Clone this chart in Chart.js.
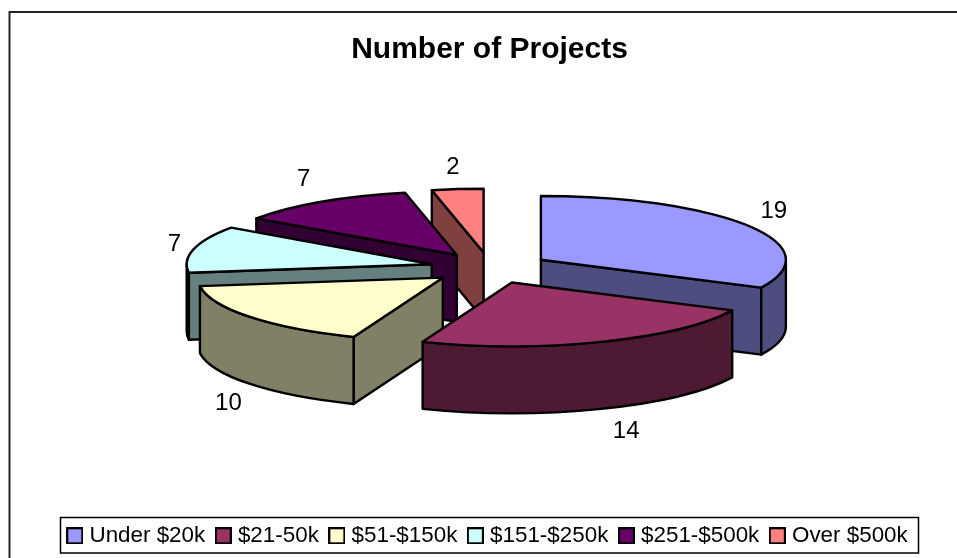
<!DOCTYPE html>
<html>
<head>
<meta charset="utf-8">
<title>Number of Projects</title>
<script src="https://cdn.jsdelivr.net/npm/chart.js@4/dist/chart.umd.js"></script>
<style>
    html, body { margin: 0; padding: 0; background: #fff; }
    canvas { display: block; }
</style>
</head>
<body>
<canvas id="pieChart" width="957" height="558"></canvas>
<script>
const titleText = 'Number of Projects';
const categories = ['Under $20k', '$21-50k', '$51-$150k', '$151-$250k', '$251-$500k', 'Over $500k'];
const projectCounts = [19, 14, 10, 7, 7, 2];
const topColors = ['#9999ff', '#993366', '#ffffcc', '#ccffff', '#660066', '#ff8080'];
const sideColors = ['#4d4d80', '#4d1933', '#808066', '#668080', '#330033', '#804040'];

// --- Tampilan 3D: pusat, elips, ketebalan, jarak explode ---
const CENTER_X = 490;
const CENTER_Y = 268;
const SQUASH = 0.26;
const DEPTH = 67;
const EXPLODE = 0.245;
const PIE_RADIUS = 245;
const LABEL_GAP = 25;
const LABEL_NUDGE = [[4, -1], [16, -1], [-2, 4], [5, 1], [-4, -2], [-2, 3]];
const DRAW_ORDER = [5, 4, 3, 0, 2, 1];

function sliceGeom(arc) {
    const r = arc.outerRadius;
    const mid = (arc.startAngle + arc.endAngle) / 2;
    return {
        r,
        mid,
        start: arc.startAngle,
        end: arc.endAngle,
        x: CENTER_X + Math.cos(mid) * EXPLODE * r,
        y: CENTER_Y + Math.sin(mid) * EXPLODE * r * SQUASH
    };
}

function rim(g, angle, dy) {
    return [g.x + Math.cos(angle) * g.r, g.y + Math.sin(angle) * g.r * SQUASH + (dy || 0)];
}

function sideFace(ctx, g, angle, color) {
    const p = rim(g, angle);
    ctx.beginPath();
    ctx.moveTo(g.x, g.y);
    ctx.lineTo(p[0], p[1]);
    ctx.lineTo(p[0], p[1] + DEPTH);
    ctx.lineTo(g.x, g.y + DEPTH);
    ctx.closePath();
    ctx.fillStyle = color;
    ctx.fill();
    ctx.stroke();
}

function outerWall(ctx, g, color) {
    // hanya bagian busur yang menghadap depan (0..PI)
    const tau = Math.PI * 2;
    let a = g.start, b = g.end;
    while (b > tau) { a -= tau; b -= tau; }
    const from = Math.max(a, 0);
    const to = Math.min(b, Math.PI);
    if (to <= from) return;
    ctx.beginPath();
    ctx.ellipse(g.x, g.y, g.r, g.r * SQUASH, 0, from, to);
    ctx.ellipse(g.x, g.y + DEPTH, g.r, g.r * SQUASH, 0, to, from, true);
    ctx.closePath();
    ctx.fillStyle = color;
    ctx.fill();
    ctx.stroke();
}

// Kotak legend dengan jarak teks yang rapat
function legendBox(color) {
    const c = document.createElement('canvas');
    c.width = 17;
    c.height = 17;
    const g = c.getContext('2d');
    g.fillStyle = color;
    g.fillRect(0, 0, 17, 17);
    g.strokeStyle = '#000';
    g.lineWidth = 2;
    g.strokeRect(1, 1, 15, 15);
    return c;
}

const pie3d = {
    id: 'pie3d',
    beforeDatasetDraw(chart, args) {
        const ctx = chart.ctx;
        const arcs = args.meta.data;
        ctx.save();
        ctx.lineWidth = 2.4;
        ctx.lineJoin = 'round';
        ctx.strokeStyle = '#000';
        DRAW_ORDER.forEach(i => {
            const arc = arcs[i];
            const g = sliceGeom(arc);
            if (-Math.cos(g.start) > 0) sideFace(ctx, g, g.start, sideColors[i]);
            if (Math.cos(g.end) > 0) sideFace(ctx, g, g.end, sideColors[i]);
            outerWall(ctx, g, sideColors[i]);

            // isi atas pakai elemen arc dari Chart.js, dipipihkan
            ctx.save();
            ctx.translate(g.x, g.y);
            ctx.scale(1, SQUASH);
            ctx.translate(-arc.x, -arc.y);
            arc.draw(ctx);
            ctx.restore();

            ctx.beginPath();
            ctx.moveTo(g.x, g.y);
            ctx.ellipse(g.x, g.y, g.r, g.r * SQUASH, 0, g.start, g.end);
            ctx.closePath();
            ctx.stroke();
        });
        ctx.restore();
        return false;
    },
    afterDraw(chart) {
        const ctx = chart.ctx;
        const arcs = chart.getDatasetMeta(0).data;
        ctx.save();

        // --- Label nilai ---
        ctx.font = '24px "Liberation Sans"';
        ctx.fillStyle = '#000';
        ctx.textAlign = 'center';
        ctx.textBaseline = 'middle';
        arcs.forEach((arc, i) => {
            const g = sliceGeom(arc);
            const p = rim(g, g.mid, Math.sin(g.mid) > 0 ? DEPTH : 0);
            ctx.fillText(String(projectCounts[i]),
                p[0] + Math.cos(g.mid) * LABEL_GAP + LABEL_NUDGE[i][0],
                p[1] + Math.sin(g.mid) * LABEL_GAP + LABEL_NUDGE[i][1]);
        });

        // --- Bingkai legend dan garis atas/kiri chart ---
        ctx.strokeStyle = '#000';
        ctx.lineWidth = 1.5;
        ctx.strokeRect(60.5, 517.5, 858, 35.5);
        ctx.strokeStyle = '#222';
        ctx.lineWidth = 2;
        ctx.beginPath();
        ctx.moveTo(9.5, 558);
        ctx.lineTo(9.5, 12);
        ctx.lineTo(957, 12);
        ctx.stroke();
        ctx.restore();
    }
};

new Chart(document.getElementById('pieChart'), {
    type: 'pie',
    data: {
        labels: categories,
        datasets: [{
            data: projectCounts,
            backgroundColor: topColors,
            borderWidth: 0
        }]
    },
    options: {
        responsive: false,
        animation: false,
        radius: PIE_RADIUS,
        layout: { padding: { left: 22, top: 14, bottom: 1 } },
        plugins: {
            tooltip: { enabled: false },
            title: {
                display: true,
                text: titleText,
                color: '#000',
                font: { family: '"Liberation Sans"', size: 30, weight: 'bold' },
                padding: { top: 18, bottom: 10 }
            },
            legend: {
                position: 'bottom',
                labels: {
                    color: '#000',
                    font: { family: '"Liberation Sans"', size: 22.4 },
                    usePointStyle: true,
                    boxWidth: 7,
                    padding: 14.5,
                    generateLabels: () => categories.map((name, i) => ({
                        text: name,
                        pointStyle: legendBox(topColors[i]),
                        index: i
                    }))
                }
            }
        }
    },
    plugins: [pie3d]
});
</script>
</body>
</html>
